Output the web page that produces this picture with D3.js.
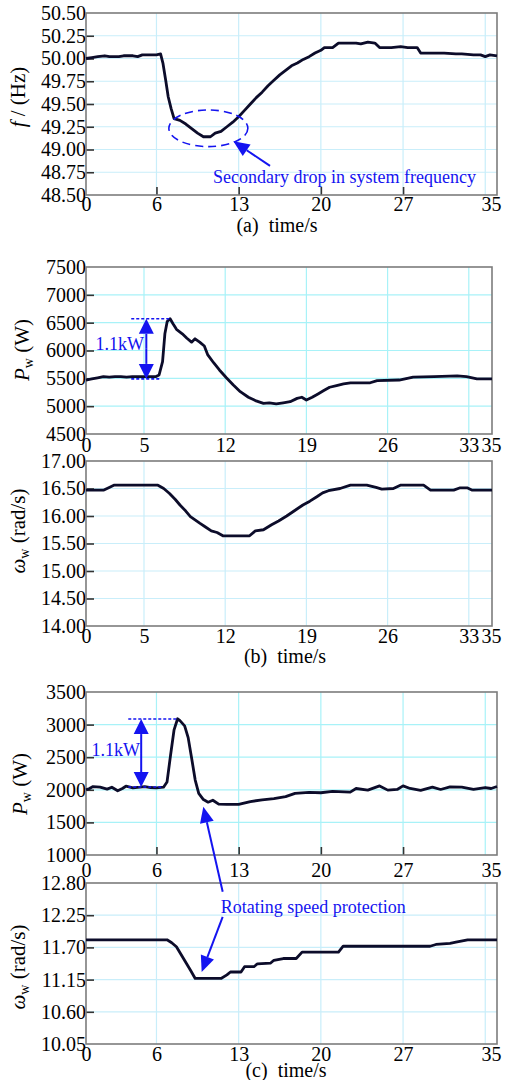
<!DOCTYPE html>
<html>
<head>
<meta charset="UTF-8">
<script src="https://cdn.jsdelivr.net/npm/d3@7"></script>
<style>
body{margin:0;background:#fff;}
.frame{fill:none;stroke:#7c7c7c;stroke-width:1.6;}
.curve{fill:none;stroke:#0c0c2a;stroke-width:2.8;stroke-linejoin:round;}
.note{fill:#1414f0;font-size:18px;}
.cap{font-size:20px;white-space:pre;}
</style>
</head>
<body>
<script>
// values
var freqA = [[0,50.00],[0.5,50.01],[1,50.02],[1.6,50.03],[2,50.02],[2.8,50.02],[3.2,50.03],[4,50.03],[4.4,50.02],[4.8,50.04],
  [5.5,50.04],[6.0,50.04],[6.35,50.05],[6.55,49.95],[6.8,49.75],[7.0,49.58],[7.25,49.45],[7.5,49.34],[8.0,49.32],[8.5,49.28],
  [9.0,49.23],[9.5,49.18],[10.0,49.14],[10.6,49.14],[11.0,49.18],[11.5,49.20],[12.0,49.25],[12.5,49.30],[13.0,49.36],[13.5,49.43],
  [14.0,49.50],[14.5,49.57],[15.0,49.63],[15.5,49.70],[16.0,49.76],[16.5,49.82],[17.0,49.87],[17.5,49.92],[18.0,49.95],[18.5,49.99],
  [19.0,50.02],[19.5,50.06],[20.0,50.09],[20.3,50.12],[21.0,50.12],[21.5,50.17],[22.0,50.17],[23.0,50.17],[23.4,50.16],[24.0,50.18],
  [24.6,50.17],[25.0,50.12],[26.0,50.12],[26.8,50.13],[27.4,50.12],[28.2,50.12],[28.5,50.06],[29.5,50.06],[30.5,50.06],[31.5,50.05],
  [32.0,50.05],[33.0,50.04],[33.6,50.04],[34.0,50.02],[34.4,50.04],[35,50.03]];

var powerB = [[0,5470],[0.5,5490],[1,5510],[1.5,5530],[2,5520],[2.5,5530],[3,5530],[3.5,5520],[4,5530],[5,5530],[6,5530],
  [6.3,5560],[6.6,5800],[6.8,6300],[7.0,6520],[7.25,6570],[7.5,6480],[7.8,6380],[8.3,6300],[8.7,6220],[9.1,6150],[9.4,6210],
  [9.8,6150],[10.2,6080],[10.5,5920],[11.0,5780],[11.5,5650],[12.1,5510],[12.7,5380],[13.3,5260],[14.0,5160],[14.6,5100],
  [15.3,5050],[15.8,5060],[16.4,5040],[17.0,5060],[17.6,5080],[18.2,5140],[18.6,5160],[19.0,5110],[19.5,5160],[20.0,5220],
  [20.5,5280],[21.0,5340],[21.6,5370],[22.2,5400],[22.8,5420],[24.5,5420],[25.1,5460],[27.0,5470],[28.2,5520],[30.0,5530],
  [32.0,5545],[32.8,5530],[33.7,5490],[35,5490]];

var speedB = [[0,16.47],[1.5,16.47],[2.0,16.52],[2.4,16.56],[6.2,16.56],[6.7,16.50],[7.2,16.41],[7.7,16.30],[8.1,16.20],
  [8.6,16.09],[9.0,15.99],[9.4,15.93],[9.8,15.87],[10.3,15.80],[10.8,15.73],[11.3,15.70],[11.8,15.64],[14.1,15.64],[14.6,15.73],
  [15.3,15.75],[16.0,15.84],[16.6,15.91],[17.3,16.00],[18.0,16.10],[18.7,16.20],[19.3,16.27],[19.9,16.35],[20.4,16.42],
  [20.9,16.46],[21.9,16.50],[22.8,16.56],[24.2,16.56],[25.0,16.52],[25.5,16.49],[26.5,16.50],[27.1,16.56],[29.1,16.56],
  [29.7,16.47],[31.7,16.47],[32.2,16.51],[32.9,16.51],[33.3,16.47],[35,16.47]];

var powerC = [[0,2000],[0.3,2020],[0.6,2050],[1.2,2040],[1.8,2010],[2.2,2040],[2.7,1985],[3.1,2020],[3.4,2055],[4.0,2030],
  [4.6,2040],[5.0,2050],[5.5,2035],[6.0,2030],[6.6,2040],[6.9,2120],[7.2,2530],[7.5,2920],[7.8,3090],[8.0,3060],[8.4,2980],
  [8.7,2800],[9.0,2480],[9.3,2150],[9.6,1945],[10.0,1850],[10.4,1810],[10.8,1840],[11.3,1780],[12.0,1775],[13.0,1775],
  [14.0,1820],[15.0,1845],[16.0,1865],[17.0,1895],[17.8,1945],[19.0,1960],[20.0,1955],[21.0,1975],[22.5,1965],[23.0,2020],
  [24.0,1995],[25.0,2060],[25.7,1995],[26.5,2005],[27.0,2060],[27.6,2020],[28.5,1990],[29.5,2040],[30.2,2005],[31.0,2045],
  [32.0,2040],[33.0,2005],[34.0,2035],[34.5,2020],[35,2050]];

var speedC = [[0,11.83],[6.9,11.83],[7.3,11.78],[7.7,11.71],[8.3,11.51],[8.9,11.31],[9.3,11.17],[11.5,11.17],[12.0,11.23],
  [12.3,11.28],[13.2,11.28],[13.5,11.37],[14.3,11.37],[14.6,11.42],[15.7,11.43],[16.0,11.48],[16.8,11.51],[17.9,11.51],
  [18.4,11.62],[21.5,11.62],[21.9,11.72],[29.3,11.72],[29.8,11.75],[31.0,11.77],[31.5,11.79],[32.5,11.83],[35,11.83]];

// ticks
var fTicks = [48.5,48.75,49,49.25,49.5,49.75,50,50.25,50.5];
var pbTicks = [4500,5000,5500,6000,6500,7000,7500];
var wbTicks = [14,14.5,15,15.5,16,16.5,17];
var pcTicks = [1000,1500,2000,2500,3000,3500];
var wcTicks = [10.05,10.6,11.15,11.7,12.25,12.8];
var xTicksAC = [0,6,13,20,27,35], xGridAC = [6,13,20,27,34];
var xTicksB = [0,5,12,19,26,33,35], xGridB = [5,12,19,26,33];

var W = 506, H = 1080;
var svg = d3.select("body").append("svg").attr("width",W).attr("height",H);

var panels = [
  {data:freqA, yd:[48.5,50.5], box:[86,497,13,195], yTicks:fTicks, fmt:".2f", xTicks:xTicksAC, xGrid:xGridAC,
   marks:true, pad:2, grid:"#c9eefa", lab:{x:18,y:97,parts:[["f",1,0],[" / (Hz)",0,0]]}, cap:{t:"(a)  time/s",x:277,y:232}},
  {data:powerB, yd:[4500,7500], box:[86,492,267,434], yTicks:pbTicks, fmt:"d", xTicks:xTicksB, xGrid:xGridB,
   marks:false, pad:4, grid:"#a8f2f8", lab:{x:22,y:350,parts:[["P",1,0],["w",0,1],[" (W)",0,0]]}},
  {data:speedB, yd:[14,17], box:[86,492,461,626], yTicks:wbTicks, fmt:".2f", xTicks:xTicksB, xGrid:xGridB,
   marks:false, pad:3, grid:"#c9eefa", lab:{x:18,y:531,parts:[["ω",1,0],["w",0,1],[" (rad/s)",0,0]]}, cap:{t:"(b)  time/s",x:285,y:663}},
  {data:powerC, yd:[1000,3500], box:[86,497,692,855], yTicks:pcTicks, fmt:"d", xTicks:xTicksAC, xGrid:xGridAC,
   marks:true, pad:8, grid:"#a8f2f8", lab:{x:20,y:784,parts:[["P",1,0],["w",0,1],[" (W)",0,0]]}},
  {data:speedC, yd:[10.05,12.8], box:[86,497,883,1044], yTicks:wcTicks, fmt:".2f", xTicks:xTicksAC, xGrid:xGridAC,
   marks:false, pad:3, grid:"#c9eefa", lab:{x:18,y:967,parts:[["ω",1,0],["w",0,1],[" (rad/s)",0,0]]}, cap:{t:"(c)  time/s",x:286,y:1077}}
];

panels.forEach(function(p){
  var b = p.box;
  p.x = d3.scaleLinear().domain([0,35]).range([b[0],b[1]]);
  p.y = d3.scaleLinear().domain(p.yd).range([b[3],b[2]]);
  var g = svg.append("g");

  // grid
  g.selectAll(".gx").data(p.xGrid).enter().append("line")
    .attr("x1",function(d){return p.x(d);}).attr("x2",function(d){return p.x(d);})
    .attr("y1",b[2]).attr("y2",b[3]).attr("stroke",p.grid).attr("stroke-width",1.2);
  g.selectAll(".gy").data(p.yTicks.slice(1,-1)).enter().append("line")
    .attr("y1",function(d){return p.y(d);}).attr("y2",function(d){return p.y(d);})
    .attr("x1",b[0]).attr("x2",b[1]).attr("stroke",p.grid).attr("stroke-width",1.2);

  // axes
  var ya = g.append("g").attr("transform","translate("+b[0]+",0)")
    .call(d3.axisLeft(p.y).tickValues(p.yTicks).tickFormat(d3.format(p.fmt)).tickSize(-8).tickPadding(0));
  var xa = g.append("g").attr("transform","translate(0,"+b[3]+")")
    .call(d3.axisBottom(p.x).tickValues(p.xTicks).tickSize(p.marks ? -8 : 0).tickPadding(p.pad));
  [ya,xa].forEach(function(a){
    a.attr("font-family",null).attr("font-size",20);
    a.select(".domain").remove();
    a.selectAll("line").attr("stroke","#333").attr("stroke-width",1.6);
    a.selectAll("text").attr("fill","#000");
  });
  ya.selectAll("line").filter(function(d,i){return i==0||i==p.yTicks.length-1;}).remove();
  xa.selectAll(".tick").filter(function(d){return d==0||d==35;}).select("line").remove();
  xa.selectAll("text").filter(function(d){return d==35;})
    .attr("dx",Math.min(0,491-p.x(35)));

  g.append("rect").attr("class","frame").attr("x",b[0]).attr("y",b[2])
    .attr("width",b[1]-b[0]).attr("height",b[3]-b[2]);

  g.append("path").datum(p.data).attr("class","curve")
    .attr("d",d3.line().x(function(d){return p.x(d[0]);}).y(function(d){return p.y(d[1]);}));

  // y label
  var t = g.append("text").attr("transform","translate("+p.lab.x+","+p.lab.y+") rotate(-90)")
    .attr("text-anchor","middle").attr("font-size",21).attr("dy","0.35em");
  p.lab.parts.forEach(function(q){
    var s = t.append("tspan").text(q[0]);
    if(q[1]) s.attr("font-style","italic");
    if(q[2]) s.attr("font-size",14).attr("baseline-shift","-25%");
  });

  if(p.cap) svg.append("text").attr("class","cap").attr("x",p.cap.x).attr("y",p.cap.y)
    .attr("text-anchor","middle").text(p.cap.t);
});

var blue = "#1414f0";
function arrow(x1,y1,x2,y2,len,hw){
  var dx=x2-x1, dy=y2-y1, L=Math.hypot(dx,dy), ux=dx/L, uy=dy/L;
  var bx=x2-ux*len, by=y2-uy*len;
  svg.append("line").attr("x1",x1).attr("y1",y1).attr("x2",bx).attr("y2",by)
    .attr("stroke",blue).attr("stroke-width",2);
  svg.append("path").attr("fill",blue)
    .attr("d","M"+x2+","+y2+"L"+(bx-uy*hw)+","+(by+ux*hw)+"L"+(bx+uy*hw)+","+(by-ux*hw)+"Z");
}
function dash(p,t0,t1,v){
  svg.append("line").attr("x1",p.x(t0)).attr("x2",p.x(t1)).attr("y1",p.y(v)).attr("y2",p.y(v))
    .attr("stroke",blue).attr("stroke-width",1.6).attr("stroke-dasharray","3,2");
}
function kw(p,t,lo,hi,dl,dh,tt,tv){
  dash(p,dl[0],dl[1],lo); dash(p,dh[0],dh[1],hi);
  var x=p.x(t), m=(p.y(lo)+p.y(hi))/2;
  arrow(x,m,x,p.y(hi),15,7.5); arrow(x,m,x,p.y(lo),15,7.5);
  svg.append("text").attr("class","note").attr("x",p.x(tt)).attr("y",p.y(tv))
    .attr("dy","0.35em").attr("text-anchor","end").text("1.1kW");
}

// (a) secondary drop
var pa = panels[0];
svg.append("ellipse").attr("cx",pa.x(10.42)).attr("cy",pa.y(49.233)).attr("rx",39.5).attr("ry",18.3)
  .attr("fill","none").attr("stroke",blue).attr("stroke-width",1.6).attr("stroke-dasharray","8,5");
arrow(pa.x(15.67),pa.y(48.82),pa.x(12.55),pa.y(49.09),16,7);
svg.append("text").attr("class","note").attr("x",pa.x(10.82)).attr("y",pa.y(48.632))
  .text("Secondary drop in system frequency");

// (b) and (c) 1.1kW
kw(panels[1],5.2,5490,6570,[3.9,6.4],[3.9,7.25],5.0,6117);
kw(panels[3],4.7,2043,3085,[3.6,6.45],[3.6,7.7],4.6,2610);

// (c) rotating speed protection
var p1 = panels[3], p2 = panels[4];
arrow(p2.x(11.64),p2.y(12.65),p1.x(9.99),p1.y(1741),16,7);
arrow(p2.x(11.64),p2.y(12.22),p2.x(9.85),p2.y(11.28),16,7);
svg.append("text").attr("class","note").attr("x",p2.x(11.47)).attr("y",p2.y(12.29))
  .text("Rotating speed protection");

// serif everywhere
svg.selectAll("text").attr("font-family","Liberation Serif");
</script>
</body>
</html>
